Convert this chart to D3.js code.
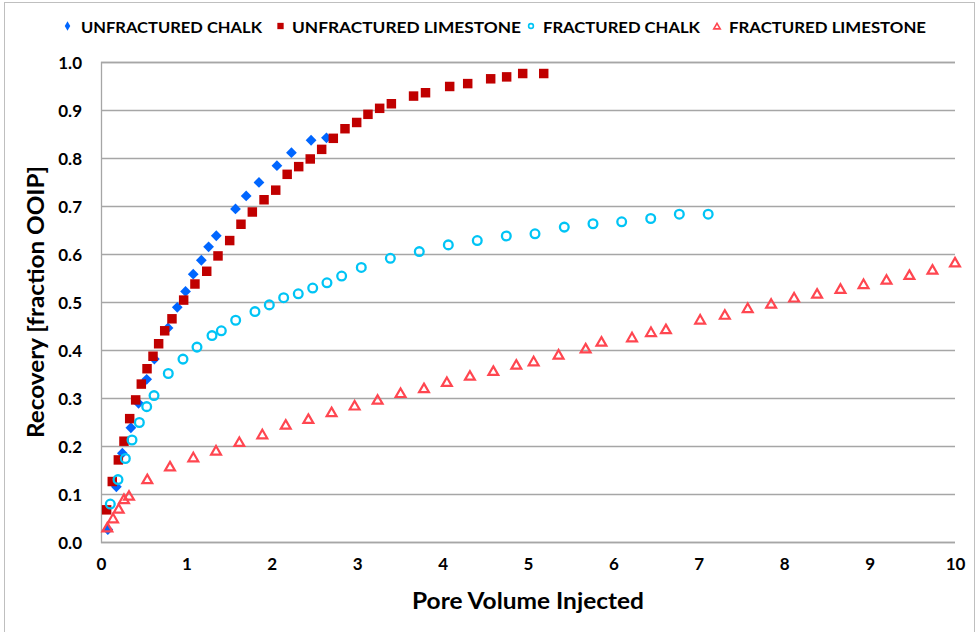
<!DOCTYPE html>
<html>
<head>
<meta charset="utf-8">
<script src="https://cdn.jsdelivr.net/npm/d3@7"></script>
<style>
  html, body { margin: 0; padding: 0; background: #fff; }
  svg { display: block; }
  text { font-family: Lato, "Open Sans", sans-serif; font-weight: 700; fill: #000; }
</style>
</head>
<body>
<svg id="chart" width="979" height="632"></svg>
<script>
// Recovery (fraction OOIP) vs. pore volume injected, [PV, recovery] pairs
const unfracturedChalk = [
  [0.08,0.026],[0.18,0.115],[0.25,0.185],[0.35,0.238],[0.44,0.289],[0.535,0.339],
  [0.625,0.381],[0.785,0.446],[0.893,0.489],[0.99,0.522],[1.08,0.558],[1.175,0.587],
  [1.26,0.615],[1.35,0.638],[1.575,0.694],[1.70,0.721],[1.85,0.749],[2.06,0.784],
  [2.23,0.811],[2.46,0.837],[2.64,0.842]
];
const unfracturedLimestone = [
  [0.066,0.067],[0.132,0.126],[0.203,0.171],[0.269,0.21],[0.336,0.257],[0.406,0.296],
  [0.472,0.329],[0.539,0.361],[0.609,0.387],[0.675,0.413],[0.746,0.44],[0.831,0.465],
  [0.968,0.504],[1.1,0.5375],[1.238,0.564],[1.37,0.596],[1.507,0.628],[1.639,0.662],
  [1.772,0.6875],[1.909,0.713],[2.046,0.733],[2.18,0.766],[2.315,0.782],[2.45,0.798],
  [2.584,0.818],[2.72,0.841],[2.857,0.861],[2.994,0.874],[3.126,0.891],[3.263,0.9035],
  [3.4,0.913],[3.66,0.929],[3.8,0.936],[4.083,0.949],[4.294,0.955],[4.563,0.965],
  [4.75,0.969],[4.938,0.976],[5.184,0.976]
];
const fracturedChalk = [
  [0.109,0.079],[0.199,0.13],[0.285,0.174],[0.363,0.2125],[0.449,0.249],[0.535,0.282],
  [0.621,0.305],[0.788,0.351],[0.96,0.381],[1.124,0.406],[1.3,0.43],[1.409,0.44],
  [1.577,0.462],[1.803,0.48],[1.971,0.494],[2.139,0.509],[2.31,0.517],[2.479,0.529],
  [2.646,0.54],[2.818,0.554],[3.048,0.572],[3.388,0.591],[3.727,0.605],[4.067,0.619],
  [4.406,0.628],[4.746,0.6375],[5.082,0.642],[5.425,0.656],[5.761,0.663],[6.097,0.667],
  [6.437,0.674],[6.772,0.683],[7.11,0.683]
];
const fracturedLimestone = [
  [0.074,0.028],[0.141,0.047],[0.207,0.067],[0.269,0.087],[0.328,0.094],[0.542,0.1285],
  [0.808,0.155],[1.081,0.174],[1.347,0.188],[1.62,0.206],[1.889,0.222],[2.163,0.242],
  [2.428,0.254],[2.70,0.268],[2.97,0.282],[3.239,0.294],[3.508,0.308],[3.782,0.318],
  [4.05,0.331],[4.32,0.344],[4.594,0.354],[4.863,0.367],[5.066,0.374],[5.358,0.388],
  [5.675,0.401],[5.86,0.415],[6.218,0.424],[6.44,0.435],[6.615,0.441],[7.016,0.461],
  [7.305,0.471],[7.573,0.485],[7.847,0.494],[8.116,0.507],[8.385,0.515],[8.659,0.525],
  [8.929,0.535],[9.198,0.544],[9.466,0.554],[9.736,0.565],[10.0,0.58]
];

const seriesNames = ["UNFRACTURED CHALK", "UNFRACTURED LIMESTONE", "FRACTURED CHALK", "FRACTURED LIMESTONE"];
const xTicks = [0,1,2,3,4,5,6,7,8,9,10];
const yTicks = [0,0.1,0.2,0.3,0.4,0.5,0.6,0.7,0.8,0.9,1.0];
const xTitle = "Pore Volume Injected";
const yTitle = "Recovery [fraction OOIP]";

const svg = d3.select("#chart");
const plot = { left: 101, right: 955, top: 62, bottom: 542 };

const x = d3.scaleLinear().domain([0, 10]).range([plot.left, plot.right]);
const y = d3.scaleLinear().domain([0, 1]).range([plot.bottom, plot.top]);

// chart frame
svg.append("rect")
  .attr("x", 4.5).attr("y", 2.5).attr("width", 970).attr("height", 640)
  .attr("fill", "#fff").attr("stroke", "#bfbfbf").attr("stroke-width", 1);

// horizontal gridlines and value axis
const yAxis = d3.axisLeft(y).tickValues(yTicks)
  .tickSize(-(plot.right - plot.left)).tickPadding(19)
  .tickFormat(d3.format(".1f"));
const gy = svg.append("g").attr("transform", `translate(${plot.left},0)`).call(yAxis);
gy.select(".domain").attr("stroke", "#a6a6a6").attr("stroke-width", 1.3);
gy.selectAll(".tick line").attr("stroke", "#a6a6a6").attr("stroke-width", 1.3);
gy.selectAll(".tick text")
  .style("font-family", "Lato, 'Open Sans', sans-serif")
  .style("font-weight", 700).style("font-size", "17px").attr("fill", "#000")
  .attr("dy", "0.36em");

const xAxis = d3.axisBottom(x).tickValues(xTicks).tickSize(0).tickPadding(20)
  .tickFormat(d3.format("d"));
const gx = svg.append("g").attr("transform", `translate(0,${plot.bottom})`).call(xAxis);
gx.select(".domain").remove();
gx.selectAll(".tick text")
  .style("font-family", "Lato, 'Open Sans', sans-serif")
  .style("font-weight", 700).style("font-size", "17px").attr("fill", "#000")
  .attr("dy", "0.45em");

// axis titles
svg.append("text")
  .attr("x", (plot.left + plot.right) / 2).attr("y", 609)
  .attr("text-anchor", "middle").style("font-size", "22px")
  .attr("textLength", 232).attr("lengthAdjust", "spacingAndGlyphs")
  .text(xTitle);

svg.append("text")
  .attr("transform", `translate(44,${(plot.top + plot.bottom) / 2}) rotate(-90)`)
  .attr("text-anchor", "middle").style("font-size", "22px")
  .attr("textLength", 272).attr("lengthAdjust", "spacingAndGlyphs")
  .text(yTitle);

// marker styles per series; the chalk diamond is a square turned 45 degrees
const styles = [
  { data: unfracturedChalk, type: d3.symbolSquare, rot: 45, size: 58, fill: "#0066ff", stroke: "none", sw: 0,
    legType: d3.symbolDiamond, legSize: 26 },
  { data: unfracturedLimestone, type: d3.symbolSquare, rot: 0, size: 90, fill: "#c00000", stroke: "none", sw: 0,
    legType: d3.symbolSquare, legSize: 40 },
  { data: fracturedChalk, type: d3.symbolCircle, rot: 0, size: 60, fill: "none", stroke: "#00c4f5", sw: 2.3,
    legType: d3.symbolCircle, legSize: 18 },
  { data: fracturedLimestone, type: d3.symbolTriangle, rot: 0, size: 42, fill: "none", stroke: "#ff4650", sw: 2.2,
    legType: d3.symbolTriangle, legSize: 18 }
];

styles.forEach(s => {
  const sym = d3.symbol().type(s.type).size(s.size);
  svg.append("g").selectAll("path").data(s.data).join("path")
    .attr("d", sym)
    .attr("transform", d => `translate(${x(d[0])},${y(d[1])}) rotate(${s.rot})`)
    .attr("fill", s.fill).attr("stroke", s.stroke).attr("stroke-width", s.sw);
});

// legend
const legendItems = [
  { marker: 67.5, text: 81, len: 181 },
  { marker: 280.5, text: 292, len: 229 },
  { marker: 531, text: 543, len: 157 },
  { marker: 717, text: 729, len: 197 }
];
const legend = svg.append("g");
legendItems.forEach((li, i) => {
  const s = styles[i];
  legend.append("path")
    .attr("d", d3.symbol().type(s.legType).size(s.legSize)())
    .attr("transform", `translate(${li.marker},${s.legType === d3.symbolTriangle ? 27 : 26})`)
    .attr("fill", s.fill).attr("stroke", s.stroke)
    .attr("stroke-width", s.sw ? 1.6 : 0);
  legend.append("text")
    .attr("x", li.text).attr("y", 33)
    .style("font-size", "14.5px")
    .attr("textLength", li.len).attr("lengthAdjust", "spacingAndGlyphs")
    .text(seriesNames[i]);
});
</script>
</body>
</html>
